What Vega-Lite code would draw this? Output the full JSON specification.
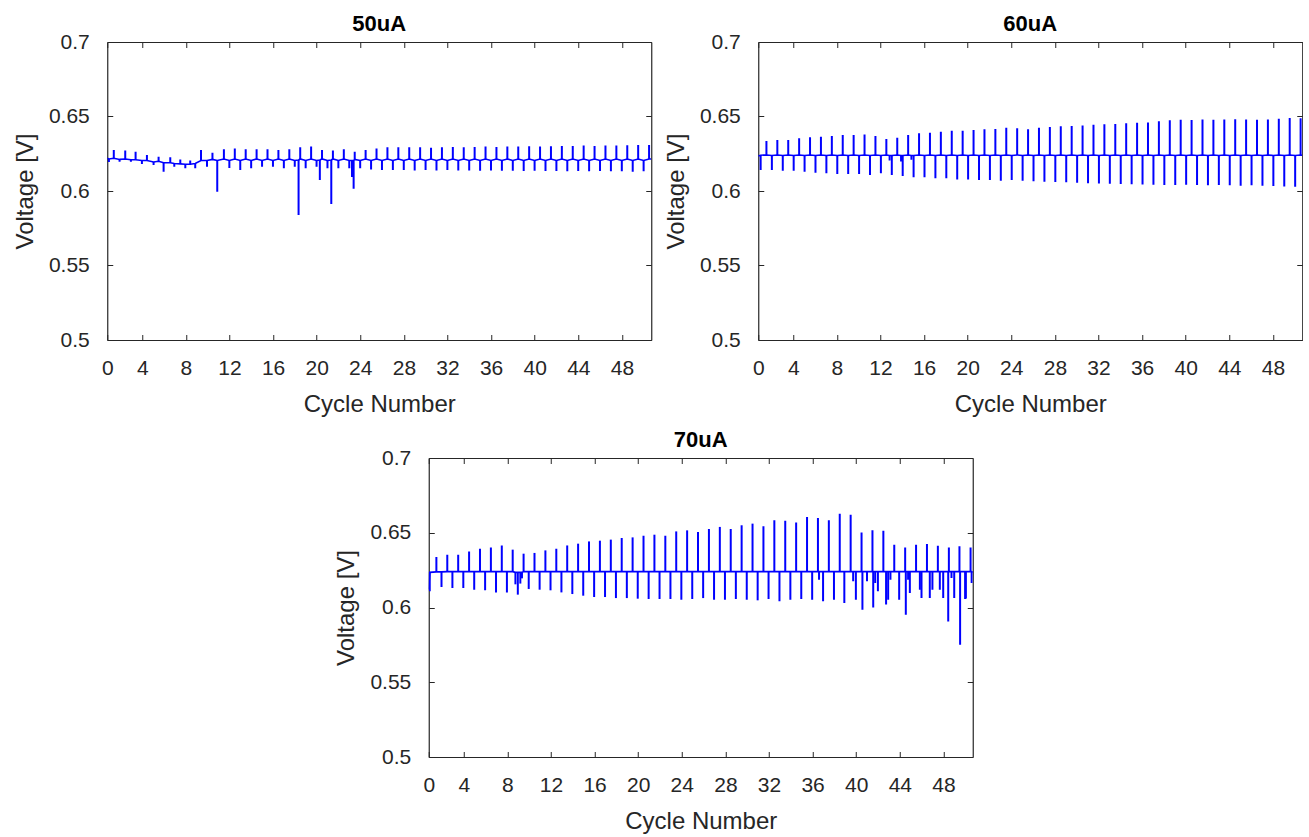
{
"$schema": "https://vega.github.io/schema/vega-lite/v6.json",
"background": "white",
"padding": {"left": 13, "top": 13, "right": 0, "bottom": 0},
"config": {
 "font": "Liberation Sans",
 "view": {"stroke": null},
 "axis": {"grid": false, "domainColor": "#262626", "domainWidth": 1.2, "tickColor": "#262626", "tickWidth": 1, "tickSize": -5.5, "labelColor": "#262626", "labelFont": "Liberation Sans", "labelFontSize": 21, "titleColor": "#262626", "titleFont": "Liberation Sans", "titleFontSize": 24, "titleFontWeight": "normal", "labelFlush": false, "labelOverlap": false, "labelBound": false},
 "title": {"font": "Liberation Sans", "fontSize": 22, "fontWeight": "bold", "color": "#000000", "offset": -5, "anchor": "middle"}
},
"datasets": {
"a": [
{"t":0,"b":0.622,"y":0.622},
{"t":0.15,"b":0.6215,"y":0.6195},
{"t":0.6,"b":0.622,"y":0.6275},
{"t":1.13,"b":0.6212,"y":0.6197},
{"t":1.65,"b":0.6215,"y":0.6271},
{"t":2.17,"b":0.621,"y":0.6197},
{"t":2.6,"b":0.621,"y":0.6264},
{"t":3.18,"b":0.6205,"y":0.6181},
{"t":3.64,"b":0.6205,"y":0.6242},
{"t":4.25,"b":0.6195,"y":0.6174},
{"t":4.71,"b":0.62,"y":0.623},
{"t":5.17,"b":0.619,"y":0.6129},
{"t":5.78,"b":0.619,"y":0.6226},
{"t":6.15,"b":0.6185,"y":0.6163},
{"t":6.7,"b":0.6182,"y":0.6212},
{"t":7.16,"b":0.618,"y":0.6152},
{"t":7.61,"b":0.618,"y":0.6205},
{"t":8.07,"b":0.6185,"y":0.6152},
{"t":8.6,"b":0.6205,"y":0.6275},
{"t":9.15,"b":0.6205,"y":0.6163},
{"t":9.65,"b":0.6212,"y":0.6257},
{"t":10.09,"b":0.6205,"y":0.5995},
{"t":10.7,"b":0.6215,"y":0.628},
{"t":11.2,"b":0.6205,"y":0.6155},
{"t":11.7,"b":0.6215,"y":0.6286},
{"t":12.2,"b":0.6205,"y":0.6141},
{"t":12.7,"b":0.6215,"y":0.628},
{"t":13.2,"b":0.6205,"y":0.6152},
{"t":13.7,"b":0.6215,"y":0.628},
{"t":14.2,"b":0.6205,"y":0.6163},
{"t":14.7,"b":0.6215,"y":0.628},
{"t":15.2,"b":0.6205,"y":0.6163},
{"t":15.7,"b":0.6215,"y":0.6275},
{"t":16.2,"b":0.6205,"y":0.6152},
{"t":16.7,"b":0.6215,"y":0.628},
{"t":17.2,"b":0.6205,"y":0.6163},
{"t":17.55,"b":0.6208,"y":0.5839},
{"t":17.7,"b":0.6215,"y":0.6293},
{"t":18.2,"b":0.6205,"y":0.6152},
{"t":18.7,"b":0.6215,"y":0.6298},
{"t":19.2,"b":0.6205,"y":0.6163},
{"t":19.5,"b":0.6208,"y":0.6074},
{"t":19.7,"b":0.6215,"y":0.6275},
{"t":20.2,"b":0.6205,"y":0.6152},
{"t":20.55,"b":0.6208,"y":0.5913},
{"t":20.7,"b":0.6215,"y":0.6271},
{"t":21.2,"b":0.6205,"y":0.6152},
{"t":21.7,"b":0.6215,"y":0.628},
{"t":22.2,"b":0.6205,"y":0.6152},
{"t":22.45,"b":0.6205,"y":0.6094},
{"t":22.6,"b":0.6205,"y":0.6015},
{"t":22.7,"b":0.6212,"y":0.6264},
{"t":23.2,"b":0.6205,"y":0.6152},
{"t":23.7,"b":0.6215,"y":0.6275},
{"t":24.2,"b":0.6205,"y":0.6145},
{"t":24.7,"b":0.6215,"y":0.6286},
{"t":25.2,"b":0.6205,"y":0.6141},
{"t":25.7,"b":0.6215,"y":0.6293},
{"t":26.2,"b":0.6205,"y":0.6141},
{"t":26.7,"b":0.6215,"y":0.6293},
{"t":27.2,"b":0.6205,"y":0.6141},
{"t":27.7,"b":0.6215,"y":0.6293},
{"t":28.2,"b":0.6205,"y":0.6138},
{"t":28.7,"b":0.6215,"y":0.6293},
{"t":29.2,"b":0.6205,"y":0.6141},
{"t":29.7,"b":0.6215,"y":0.629},
{"t":30.2,"b":0.6205,"y":0.6138},
{"t":30.7,"b":0.6215,"y":0.6293},
{"t":31.2,"b":0.6205,"y":0.6141},
{"t":31.7,"b":0.6215,"y":0.6295},
{"t":32.2,"b":0.6205,"y":0.6138},
{"t":32.7,"b":0.6215,"y":0.6293},
{"t":33.2,"b":0.6205,"y":0.6138},
{"t":33.7,"b":0.6215,"y":0.6295},
{"t":34.2,"b":0.6205,"y":0.6136},
{"t":34.7,"b":0.6215,"y":0.6298},
{"t":35.2,"b":0.6205,"y":0.6138},
{"t":35.7,"b":0.6215,"y":0.6295},
{"t":36.2,"b":0.6205,"y":0.6136},
{"t":36.7,"b":0.6215,"y":0.6298},
{"t":37.2,"b":0.6205,"y":0.6136},
{"t":37.7,"b":0.6215,"y":0.6298},
{"t":38.2,"b":0.6205,"y":0.6134},
{"t":38.7,"b":0.6215,"y":0.63},
{"t":39.2,"b":0.6205,"y":0.6136},
{"t":39.7,"b":0.6215,"y":0.6298},
{"t":40.2,"b":0.6205,"y":0.6134},
{"t":40.7,"b":0.6215,"y":0.63},
{"t":41.2,"b":0.6205,"y":0.6134},
{"t":41.7,"b":0.6215,"y":0.6302},
{"t":42.2,"b":0.6205,"y":0.6132},
{"t":42.7,"b":0.6215,"y":0.6302},
{"t":43.2,"b":0.6205,"y":0.6134},
{"t":43.7,"b":0.6215,"y":0.6305},
{"t":44.2,"b":0.6205,"y":0.6132},
{"t":44.7,"b":0.6215,"y":0.6302},
{"t":45.2,"b":0.6205,"y":0.6134},
{"t":45.7,"b":0.6215,"y":0.6305},
{"t":46.2,"b":0.6205,"y":0.6132},
{"t":46.7,"b":0.6215,"y":0.6305},
{"t":47.2,"b":0.6205,"y":0.6132},
{"t":47.7,"b":0.6215,"y":0.6307},
{"t":48.2,"b":0.6205,"y":0.613},
{"t":48.7,"b":0.6215,"y":0.6309},
{"t":49.2,"b":0.6205,"y":0.6132},
{"t":49.7,"b":0.6215,"y":0.6309},
{"t":49.9,"b":0.6215,"y":0.6215}
],
"b": [
{"t":0,"b":0.6235,"y":0.6235},
{"t":0.22,"b":0.624,"y":0.6141},
{"t":0.75,"b":0.6242,"y":0.6336},
{"t":1.25,"b":0.6238,"y":0.6141},
{"t":1.75,"b":0.6242,"y":0.6342},
{"t":2.25,"b":0.6238,"y":0.6136},
{"t":2.75,"b":0.6242,"y":0.6342},
{"t":3.25,"b":0.6238,"y":0.6136},
{"t":3.75,"b":0.6242,"y":0.6354},
{"t":4.25,"b":0.6238,"y":0.613},
{"t":4.75,"b":0.6242,"y":0.636},
{"t":5.25,"b":0.6238,"y":0.6123},
{"t":5.75,"b":0.6242,"y":0.6364},
{"t":6.25,"b":0.6238,"y":0.6119},
{"t":6.75,"b":0.6242,"y":0.6369},
{"t":7.25,"b":0.6238,"y":0.6114},
{"t":7.75,"b":0.6242,"y":0.6376},
{"t":8.25,"b":0.6238,"y":0.6114},
{"t":8.75,"b":0.6242,"y":0.6376},
{"t":9.25,"b":0.6238,"y":0.6114},
{"t":9.75,"b":0.6242,"y":0.638},
{"t":10.25,"b":0.6238,"y":0.6107},
{"t":10.75,"b":0.6242,"y":0.6369},
{"t":11.25,"b":0.6238,"y":0.6119},
{"t":11.75,"b":0.6242,"y":0.6349},
{"t":12.05,"b":0.6238,"y":0.6205},
{"t":12.25,"b":0.6238,"y":0.6107},
{"t":12.75,"b":0.6242,"y":0.6358},
{"t":13.1,"b":0.6238,"y":0.6198},
{"t":13.25,"b":0.6238,"y":0.6101},
{"t":13.75,"b":0.6242,"y":0.6376},
{"t":14.05,"b":0.6238,"y":0.621},
{"t":14.25,"b":0.6238,"y":0.6092},
{"t":14.75,"b":0.6242,"y":0.6387},
{"t":15.25,"b":0.6238,"y":0.6092},
{"t":15.75,"b":0.6242,"y":0.6391},
{"t":16.25,"b":0.6238,"y":0.6085},
{"t":16.75,"b":0.6242,"y":0.6398},
{"t":17.25,"b":0.6238,"y":0.6085},
{"t":17.75,"b":0.6242,"y":0.6405},
{"t":18.25,"b":0.6238,"y":0.6078},
{"t":18.75,"b":0.6242,"y":0.6405},
{"t":19.25,"b":0.6238,"y":0.6078},
{"t":19.75,"b":0.6242,"y":0.6409},
{"t":20.25,"b":0.6238,"y":0.6074},
{"t":20.75,"b":0.6242,"y":0.6414},
{"t":21.25,"b":0.6238,"y":0.6074},
{"t":21.75,"b":0.6242,"y":0.6416},
{"t":22.25,"b":0.6238,"y":0.6069},
{"t":22.75,"b":0.6242,"y":0.6425},
{"t":23.25,"b":0.6238,"y":0.6074},
{"t":23.75,"b":0.6242,"y":0.6421},
{"t":24.25,"b":0.6238,"y":0.6069},
{"t":24.75,"b":0.6242,"y":0.6414},
{"t":25.25,"b":0.6238,"y":0.6065},
{"t":25.75,"b":0.6242,"y":0.6425},
{"t":26.25,"b":0.6238,"y":0.6062},
{"t":26.75,"b":0.6242,"y":0.643},
{"t":27.25,"b":0.6238,"y":0.606},
{"t":27.75,"b":0.6242,"y":0.6435},
{"t":28.25,"b":0.6238,"y":0.6058},
{"t":28.75,"b":0.6242,"y":0.6437},
{"t":29.25,"b":0.6238,"y":0.6055},
{"t":29.75,"b":0.6242,"y":0.644},
{"t":30.25,"b":0.6238,"y":0.6052},
{"t":30.75,"b":0.6242,"y":0.6445},
{"t":31.25,"b":0.6238,"y":0.605},
{"t":31.75,"b":0.6242,"y":0.6448},
{"t":32.25,"b":0.6238,"y":0.6048},
{"t":32.75,"b":0.6242,"y":0.645},
{"t":33.25,"b":0.6238,"y":0.6047},
{"t":33.75,"b":0.6242,"y":0.6455},
{"t":34.25,"b":0.6238,"y":0.6045},
{"t":34.75,"b":0.6242,"y":0.6458},
{"t":35.25,"b":0.6238,"y":0.6043},
{"t":35.75,"b":0.6242,"y":0.646},
{"t":36.25,"b":0.6238,"y":0.6042},
{"t":36.75,"b":0.6242,"y":0.6468},
{"t":37.25,"b":0.6238,"y":0.604},
{"t":37.75,"b":0.6242,"y":0.6475},
{"t":38.25,"b":0.6238,"y":0.604},
{"t":38.75,"b":0.6242,"y":0.6478},
{"t":39.25,"b":0.6238,"y":0.6042},
{"t":39.75,"b":0.6242,"y":0.6476},
{"t":40.25,"b":0.6238,"y":0.604},
{"t":40.75,"b":0.6242,"y":0.648},
{"t":41.25,"b":0.6238,"y":0.6038},
{"t":41.75,"b":0.6242,"y":0.6478},
{"t":42.25,"b":0.6238,"y":0.604},
{"t":42.75,"b":0.6242,"y":0.648},
{"t":43.25,"b":0.6238,"y":0.6038},
{"t":43.75,"b":0.6242,"y":0.6482},
{"t":44.25,"b":0.6238,"y":0.6036},
{"t":44.75,"b":0.6242,"y":0.648},
{"t":45.25,"b":0.6238,"y":0.6038},
{"t":45.75,"b":0.6242,"y":0.6478},
{"t":46.25,"b":0.6238,"y":0.6035},
{"t":46.75,"b":0.6242,"y":0.648},
{"t":47.25,"b":0.6238,"y":0.6033},
{"t":47.75,"b":0.6242,"y":0.6485},
{"t":48.25,"b":0.6238,"y":0.603},
{"t":48.75,"b":0.6242,"y":0.649},
{"t":49.25,"b":0.6238,"y":0.6029},
{"t":49.75,"b":0.6242,"y":0.6488},
{"t":49.9,"b":0.624,"y":0.624}
],
"c": [
{"t":0,"b":0.612,"y":0.612},
{"t":0.09,"b":0.6235,"y":0.6108},
{"t":0.7,"b":0.6238,"y":0.6338},
{"t":1.17,"b":0.6238,"y":0.6137},
{"t":1.7,"b":0.624,"y":0.6353},
{"t":2.17,"b":0.624,"y":0.613},
{"t":2.7,"b":0.624,"y":0.6353},
{"t":3.17,"b":0.624,"y":0.613},
{"t":3.7,"b":0.624,"y":0.6375},
{"t":4.17,"b":0.624,"y":0.6119},
{"t":4.7,"b":0.624,"y":0.6393},
{"t":5.17,"b":0.624,"y":0.6115},
{"t":5.7,"b":0.624,"y":0.6402},
{"t":6.17,"b":0.624,"y":0.6101},
{"t":6.7,"b":0.624,"y":0.6415},
{"t":7.17,"b":0.624,"y":0.6101},
{"t":7.7,"b":0.624,"y":0.6387},
{"t":7.95,"b":0.6235,"y":0.6155},
{"t":8.17,"b":0.6235,"y":0.6086},
{"t":8.4,"b":0.6235,"y":0.616},
{"t":8.55,"b":0.6235,"y":0.6195},
{"t":8.7,"b":0.624,"y":0.636},
{"t":9.17,"b":0.624,"y":0.6124},
{"t":9.7,"b":0.624,"y":0.6365},
{"t":10.17,"b":0.624,"y":0.6119},
{"t":10.7,"b":0.624,"y":0.6382},
{"t":11.17,"b":0.624,"y":0.6115},
{"t":11.7,"b":0.624,"y":0.6393},
{"t":12.17,"b":0.624,"y":0.6101},
{"t":12.7,"b":0.624,"y":0.6415},
{"t":13.17,"b":0.624,"y":0.609},
{"t":13.7,"b":0.624,"y":0.6427},
{"t":14.17,"b":0.624,"y":0.6079},
{"t":14.7,"b":0.624,"y":0.6442},
{"t":15.17,"b":0.624,"y":0.607},
{"t":15.7,"b":0.624,"y":0.6447},
{"t":16.17,"b":0.624,"y":0.607},
{"t":16.7,"b":0.624,"y":0.6454},
{"t":17.17,"b":0.624,"y":0.6063},
{"t":17.7,"b":0.624,"y":0.6465},
{"t":18.17,"b":0.624,"y":0.6063},
{"t":18.7,"b":0.624,"y":0.6469},
{"t":19.17,"b":0.624,"y":0.6059},
{"t":19.7,"b":0.624,"y":0.648},
{"t":20.17,"b":0.624,"y":0.6057},
{"t":20.7,"b":0.624,"y":0.6487},
{"t":21.17,"b":0.624,"y":0.6057},
{"t":21.7,"b":0.624,"y":0.648},
{"t":22.17,"b":0.624,"y":0.6057},
{"t":22.7,"b":0.624,"y":0.6509},
{"t":23.17,"b":0.624,"y":0.6052},
{"t":23.7,"b":0.624,"y":0.6516},
{"t":24.17,"b":0.624,"y":0.6057},
{"t":24.7,"b":0.624,"y":0.6505},
{"t":25.17,"b":0.624,"y":0.6063},
{"t":25.7,"b":0.624,"y":0.6525},
{"t":26.17,"b":0.624,"y":0.6052},
{"t":26.7,"b":0.624,"y":0.6539},
{"t":27.17,"b":0.624,"y":0.6052},
{"t":27.7,"b":0.624,"y":0.6525},
{"t":28.17,"b":0.624,"y":0.6057},
{"t":28.7,"b":0.624,"y":0.655},
{"t":29.17,"b":0.624,"y":0.6052},
{"t":29.7,"b":0.624,"y":0.6561},
{"t":30.17,"b":0.624,"y":0.6048},
{"t":30.7,"b":0.624,"y":0.6543},
{"t":31.17,"b":0.624,"y":0.6057},
{"t":31.7,"b":0.624,"y":0.6583},
{"t":32.17,"b":0.624,"y":0.6041},
{"t":32.7,"b":0.624,"y":0.6581},
{"t":33.17,"b":0.624,"y":0.6052},
{"t":33.7,"b":0.624,"y":0.6569},
{"t":34.17,"b":0.624,"y":0.6057},
{"t":34.7,"b":0.624,"y":0.6605},
{"t":35.17,"b":0.624,"y":0.6052},
{"t":35.7,"b":0.624,"y":0.6599},
{"t":35.8,"b":0.624,"y":0.6186},
{"t":36.17,"b":0.624,"y":0.6041},
{"t":36.7,"b":0.624,"y":0.6583},
{"t":37.17,"b":0.624,"y":0.6052},
{"t":37.7,"b":0.624,"y":0.6627},
{"t":38.12,"b":0.624,"y":0.603},
{"t":38.7,"b":0.624,"y":0.6621},
{"t":38.93,"b":0.624,"y":0.6175},
{"t":39.18,"b":0.624,"y":0.6052},
{"t":39.7,"b":0.624,"y":0.6502},
{"t":39.78,"b":0.624,"y":0.5985},
{"t":40.2,"b":0.624,"y":0.6175},
{"t":40.7,"b":0.624,"y":0.6516},
{"t":40.77,"b":0.624,"y":0.6},
{"t":40.95,"b":0.624,"y":0.6164},
{"t":41.2,"b":0.624,"y":0.6108},
{"t":41.7,"b":0.624,"y":0.6514},
{"t":41.95,"b":0.624,"y":0.602},
{"t":42.14,"b":0.624,"y":0.6052},
{"t":42.35,"b":0.624,"y":0.6186},
{"t":42.7,"b":0.624,"y":0.642},
{"t":43.15,"b":0.624,"y":0.6052},
{"t":43.7,"b":0.624,"y":0.6402},
{"t":43.76,"b":0.624,"y":0.5952},
{"t":43.97,"b":0.624,"y":0.6186},
{"t":44.13,"b":0.624,"y":0.6097},
{"t":44.7,"b":0.624,"y":0.642},
{"t":45.05,"b":0.624,"y":0.6119},
{"t":45.2,"b":0.624,"y":0.6063},
{"t":45.7,"b":0.624,"y":0.6425},
{"t":45.96,"b":0.624,"y":0.6063},
{"t":46.2,"b":0.624,"y":0.6119},
{"t":46.7,"b":0.624,"y":0.6413},
{"t":46.88,"b":0.624,"y":0.6119},
{"t":47.19,"b":0.624,"y":0.6063},
{"t":47.65,"b":0.624,"y":0.5907},
{"t":47.71,"b":0.624,"y":0.6402},
{"t":47.95,"b":0.624,"y":0.6197},
{"t":48.2,"b":0.624,"y":0.6063},
{"t":48.68,"b":0.624,"y":0.6409},
{"t":48.74,"b":0.624,"y":0.5751},
{"t":49.2,"b":0.624,"y":0.6057},
{"t":49.27,"b":0.624,"y":0.606},
{"t":49.7,"b":0.624,"y":0.6402},
{"t":49.8,"b":0.624,"y":0.6164},
{"t":49.9,"b":0.6235,"y":0.6235}
]
},
"spacing": 12,
"center": true,
"vconcat": [
{"spacing": 12, "hconcat": [
{"title": "50uA", "width": 544, "height": 298, "data": {"name": "a"},
 "layer": [
  {"mark": {"type": "line", "color": "#0000ff", "strokeWidth": 1.6, "clip": true},
   "encoding": {
    "x": {"field": "t", "type": "quantitative", "scale": {"domain": [0, 49.9], "nice": false, "zero": false},
          "axis": {"orient": "bottom", "values": [0,3.21,7.21,11.21,15.21,19.21,23.21,27.21,31.21,35.21,39.21,43.21,47.21], "labelExpr": "datum.value < 1 ? '0' : format(round(datum.value + 0.79), 'd')", "labelPadding": 23, "title": "Cycle Number", "titlePadding": 14}},
    "y": {"field": "b", "type": "quantitative", "scale": {"domain": [0.5, 0.7], "nice": false, "zero": false},
          "axis": {"orient": "left", "values": [0.5,0.55,0.6,0.65,0.7], "format": "~g", "labelPadding": 23.5, "title": "Voltage [V]", "titlePadding": 11}}}},
  {"mark": {"type": "rule", "color": "#0000ff", "strokeWidth": 2, "clip": true},
   "encoding": {
    "x": {"field": "t", "type": "quantitative", "axis": {"orient": "top", "values": [0,3.21,7.21,11.21,15.21,19.21,23.21,27.21,31.21,35.21,39.21,43.21,47.21], "labels": false, "title": null}},
    "y": {"field": "b", "type": "quantitative", "axis": {"orient": "right", "values": [0.5,0.55,0.6,0.65,0.7], "labels": false, "title": null}},
    "y2": {"field": "y"}}}
 ],
 "resolve": {"axis": {"x": "independent", "y": "independent"}}
},
{"title": "60uA", "width": 544, "height": 298, "data": {"name": "b"},
 "layer": [
  {"mark": {"type": "line", "color": "#0000ff", "strokeWidth": 1.6, "clip": true},
   "encoding": {
    "x": {"field": "t", "type": "quantitative", "scale": {"domain": [0, 49.9], "nice": false, "zero": false},
          "axis": {"orient": "bottom", "values": [0,3.21,7.21,11.21,15.21,19.21,23.21,27.21,31.21,35.21,39.21,43.21,47.21], "labelExpr": "datum.value < 1 ? '0' : format(round(datum.value + 0.79), 'd')", "labelPadding": 23, "title": "Cycle Number", "titlePadding": 14}},
    "y": {"field": "b", "type": "quantitative", "scale": {"domain": [0.5, 0.7], "nice": false, "zero": false},
          "axis": {"orient": "left", "values": [0.5,0.55,0.6,0.65,0.7], "format": "~g", "labelPadding": 23.5, "title": "Voltage [V]", "titlePadding": 11}}}},
  {"mark": {"type": "rule", "color": "#0000ff", "strokeWidth": 2, "clip": true},
   "encoding": {
    "x": {"field": "t", "type": "quantitative", "axis": {"orient": "top", "values": [0,3.21,7.21,11.21,15.21,19.21,23.21,27.21,31.21,35.21,39.21,43.21,47.21], "labels": false, "title": null}},
    "y": {"field": "b", "type": "quantitative", "axis": {"orient": "right", "values": [0.5,0.55,0.6,0.65,0.7], "labels": false, "title": null}},
    "y2": {"field": "y"}}}
 ],
 "resolve": {"axis": {"x": "independent", "y": "independent"}}
}
]},
{"title": "70uA", "width": 544, "height": 299, "data": {"name": "c"},
 "layer": [
  {"mark": {"type": "line", "color": "#0000ff", "strokeWidth": 1.6, "clip": true},
   "encoding": {
    "x": {"field": "t", "type": "quantitative", "scale": {"domain": [0, 49.9], "nice": false, "zero": false},
          "axis": {"orient": "bottom", "values": [0,3.21,7.21,11.21,15.21,19.21,23.21,27.21,31.21,35.21,39.21,43.21,47.21], "labelExpr": "datum.value < 1 ? '0' : format(round(datum.value + 0.79), 'd')", "labelPadding": 23, "title": "Cycle Number", "titlePadding": 14}},
    "y": {"field": "b", "type": "quantitative", "scale": {"domain": [0.5, 0.7], "nice": false, "zero": false},
          "axis": {"orient": "left", "values": [0.5,0.55,0.6,0.65,0.7], "format": "~g", "labelPadding": 23.5, "title": "Voltage [V]", "titlePadding": 11}}}},
  {"mark": {"type": "rule", "color": "#0000ff", "strokeWidth": 2, "clip": true},
   "encoding": {
    "x": {"field": "t", "type": "quantitative", "axis": {"orient": "top", "values": [0,3.21,7.21,11.21,15.21,19.21,23.21,27.21,31.21,35.21,39.21,43.21,47.21], "labels": false, "title": null}},
    "y": {"field": "b", "type": "quantitative", "axis": {"orient": "right", "values": [0.5,0.55,0.6,0.65,0.7], "labels": false, "title": " ", "titleFontSize": 7.5, "titlePadding": 0}},
    "y2": {"field": "y"}}}
 ],
 "resolve": {"axis": {"x": "independent", "y": "independent"}}
}
]
}
